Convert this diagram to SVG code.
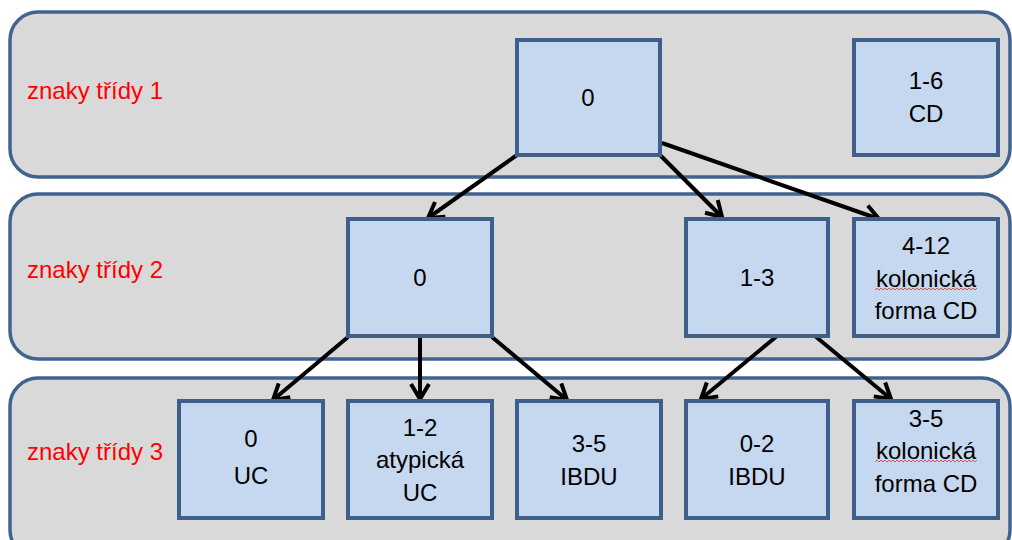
<svg xmlns="http://www.w3.org/2000/svg" width="1012" height="540" viewBox="0 0 1012 540">
<style>
.band{fill:#d9d9d9;stroke:#41648f;stroke-width:3.5}
.node{fill:#c5d8ef;stroke:#3d5f8a;stroke-width:4}
.lbl{font-family:"Liberation Sans",Arial,sans-serif;font-size:24px;fill:#ff0000}
.t{font-family:"Liberation Sans",Arial,sans-serif;font-size:24px;fill:#000;text-anchor:middle}
.c{stroke:#000;stroke-width:4;fill:none;marker-end:url(#ah)}
.sq{stroke:#e05050;stroke-width:1;fill:none}
</style>
<defs>
<marker id="ah" markerUnits="userSpaceOnUse" markerWidth="30" markerHeight="30" viewBox="-20 -15 30 30" refX="0" refY="0" orient="auto">
<polyline points="-15,-9 0,0 -15,9" fill="none" stroke="#000" stroke-width="4" stroke-linejoin="miter"/>
</marker>
</defs>
<g id="bands">
<rect class="band" x="10" y="12" width="1000" height="165" rx="28"/>
<rect class="band" x="10" y="194" width="1000" height="165" rx="28"/>
<rect class="band" x="10" y="378" width="1000" height="180" rx="28"/>
</g>
<g id="labels">
<text class="lbl" x="27" y="99">znaky třídy 1</text>
<text class="lbl" x="27" y="278">znaky třídy 2</text>
<text class="lbl" x="27" y="460">znaky třídy 3</text>
</g>
<g id="connectors">
<line class="c" x1="517" y1="155" x2="428" y2="218"/>
<line class="c" x1="660" y1="155" x2="722" y2="217"/>
<line class="c" x1="662" y1="143" x2="879" y2="219"/>
<line class="c" x1="348" y1="337" x2="273" y2="400"/>
<line class="c" x1="420" y1="337" x2="420" y2="399"/>
<line class="c" x1="492" y1="337" x2="567" y2="400"/>
<line class="c" x1="777" y1="336" x2="701" y2="399"/>
<line class="c" x1="815" y1="336" x2="891" y2="399"/>
</g>
<g id="n1-0"><rect class="node" x="517" y="40" width="143" height="115"/><text class="t" x="588" y="106">0</text></g>
<g id="n1-cd"><rect class="node" x="854" y="40" width="144" height="115"/><text class="t" x="926" y="89">1-6</text><text class="t" x="926" y="122">CD</text></g>
<g id="n2-0"><rect class="node" x="348" y="219" width="144" height="117"/><text class="t" x="420" y="286">0</text></g>
<g id="n2-13"><rect class="node" x="686" y="219" width="142" height="117"/><text class="t" x="757" y="286">1-3</text></g>
<g id="n2-412"><rect class="node" x="854" y="219" width="144" height="117"/><text class="t" x="926" y="254">4-12</text><text class="t" x="926" y="287">kolonická</text><text class="t" x="926" y="319">forma CD</text><path class="sq" d="M875,290 l2,-2 l2,2 l2,-2 l2,2 l2,-2 l2,2 l2,-2 l2,2 l2,-2 l2,2 l2,-2 l2,2 l2,-2 l2,2 l2,-2 l2,2 l2,-2 l2,2 l2,-2 l2,2 l2,-2 l2,2 l2,-2 l2,2 l2,-2 l2,2 l2,-2 l2,2 l2,-2 l2,2 l2,-2 l2,2 l2,-2 l2,2 l2,-2 l2,2 l2,-2 l2,2 l2,-2 l2,2 l2,-2 l2,2 l2,-2 l2,2 l2,-2 l2,2 l2,-2 l2,2 l2,-2 l2,2 l2,-2"/></g>
<g id="n3-uc"><rect class="node" x="179" y="401" width="144" height="117"/><text class="t" x="251" y="447">0</text><text class="t" x="251" y="484">UC</text></g>
<g id="n3-atyp"><rect class="node" x="348" y="401" width="144" height="117"/><text class="t" x="420" y="436">1-2</text><text class="t" x="420" y="468">atypická</text><text class="t" x="420" y="501">UC</text></g>
<g id="n3-ibdu35"><rect class="node" x="517" y="401" width="144" height="117"/><text class="t" x="589" y="452">3-5</text><text class="t" x="589" y="485">IBDU</text></g>
<g id="n3-ibdu02"><rect class="node" x="686" y="401" width="142" height="117"/><text class="t" x="757" y="452">0-2</text><text class="t" x="757" y="485">IBDU</text></g>
<g id="n3-kol"><rect class="node" x="854" y="401" width="144" height="117"/><text class="t" x="926" y="427">3-5</text><text class="t" x="926" y="459">kolonická</text><text class="t" x="926" y="492">forma CD</text><path class="sq" d="M875,462 l2,-2 l2,2 l2,-2 l2,2 l2,-2 l2,2 l2,-2 l2,2 l2,-2 l2,2 l2,-2 l2,2 l2,-2 l2,2 l2,-2 l2,2 l2,-2 l2,2 l2,-2 l2,2 l2,-2 l2,2 l2,-2 l2,2 l2,-2 l2,2 l2,-2 l2,2 l2,-2 l2,2 l2,-2 l2,2 l2,-2 l2,2 l2,-2 l2,2 l2,-2 l2,2 l2,-2 l2,2 l2,-2 l2,2 l2,-2 l2,2 l2,-2 l2,2 l2,-2 l2,2 l2,-2 l2,2 l2,-2"/></g>
</svg>
